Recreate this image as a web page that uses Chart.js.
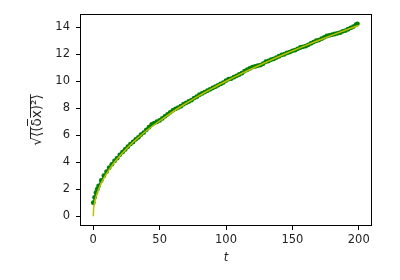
<!DOCTYPE html>
<html>
<head>
<meta charset="utf-8">
<script src="https://cdn.jsdelivr.net/npm/chart.js@4/dist/chart.umd.min.js"></script>
<style>
html,body{margin:0;padding:0;background:#fff;}
#wrap{width:400px;height:280px;}
</style>
</head>
<body>
<div id="wrap"><canvas id="c" width="400" height="280"></canvas></div>
<script>
// measured sqrt mean-square displacement (green markers)
const tMeasured = [0,1,2,3,4,6,8,10,12,14,16,18,20,22,24,26,28,30,32,34,36,38,40,42,44,46,48,50,52,54,56,58,60,62,64,66,68,70,72,74,76,78,80,82,84,86,88,90,92,94,96,98,100,102,104,106,108,110,112,114,116,118,120,122,124,126,128,130,132,134,136,138,140,142,144,146,148,150,152,154,156,158,160,162,164,166,168,170,172,174,176,178,180,182,184,186,188,190,192,194,196,198,199];
const rmsMeasured = [1.00,1.40,1.75,2.00,2.25,2.65,3.00,3.30,3.60,3.85,4.10,4.30,4.55,4.75,4.95,5.15,5.35,5.50,5.70,5.85,6.05,6.20,6.40,6.60,6.80,6.90,7.00,7.10,7.25,7.40,7.55,7.70,7.85,7.95,8.05,8.15,8.30,8.40,8.50,8.60,8.75,8.85,9.00,9.10,9.20,9.30,9.40,9.50,9.60,9.70,9.80,9.90,10.05,10.15,10.20,10.30,10.40,10.50,10.60,10.75,10.85,10.95,11.05,11.10,11.15,11.20,11.30,11.45,11.50,11.60,11.65,11.75,11.85,11.95,12.00,12.10,12.15,12.25,12.30,12.40,12.50,12.55,12.60,12.70,12.80,12.90,13.00,13.05,13.15,13.25,13.35,13.40,13.45,13.50,13.55,13.60,13.70,13.75,13.85,13.95,14.05,14.20,14.25];
// fitted curve (yellow line)
const tFit = [0,0.25,1,2,4,6,9,12,16,20,25,30,36,42,49,56,64,72,81,90,100,110,121,132,144,156,169,182,196,200];
const rmsFit = [0,0.5,1.0,1.41,2.0,2.45,3.0,3.46,4.0,4.47,5.0,5.48,6.0,6.48,7.0,7.48,8.0,8.49,9.0,9.49,10.0,10.49,11.0,11.49,12.0,12.49,13.0,13.49,14.0,14.14];
// axis ticks
const xTicks = [0,50,100,150,200];
const yTicks = [0,2,4,6,8,10,12,14];
const xLimits = [-10,210];
const yLimits = [-0.72,14.98];

const measuredPts = tMeasured.map((t,i)=>({x:t,y:rmsMeasured[i]}));
const fitPts = tFit.map((t,i)=>({x:t,y:rmsFit[i]}));

const boxPlugin = {
  id:'box',
  afterDraw(chart){
    const {ctx, chartArea:a} = chart;
    ctx.save();
    ctx.strokeStyle='#000';
    ctx.lineWidth=1;
    ctx.strokeRect(Math.round(a.left)+0.5, Math.round(a.top)+0.5, Math.round(a.right-a.left)-1, Math.round(a.bottom-a.top)-1);
    ctx.restore();
  }
};

const tickFont = {family:'DejaVu Sans', size:11.5};
new Chart(document.getElementById('c'), {
  type:'scatter',
  data:{datasets:[
    {data:measuredPts, showLine:true, borderColor:'#008000', backgroundColor:'#008000', borderWidth:1.5, pointRadius:2.4, pointBorderWidth:0, pointHoverRadius:2.4, order:2},
    {data:fitPts, showLine:true, borderColor:'#bfbf00', borderWidth:1.5, pointRadius:0, cubicInterpolationMode:'monotone', order:1}
  ]},
  options:{
    responsive:false, animation:false, devicePixelRatio:1,
    layout:{padding:{left:0,right:28,top:14,bottom:0}},
    plugins:{legend:{display:false}, tooltip:{enabled:false}},
    scales:{
      x:{type:'linear', min:xLimits[0], max:xLimits[1],
        afterBuildTicks(s){ s.ticks = xTicks.map(v=>({value:v})); },
        afterFit(s){ s.height = 54; },
        grid:{display:true, drawOnChartArea:false, tickLength:4, color:'#000', tickColor:'#000'},
        border:{display:false},
        ticks:{font:tickFont, color:'#222', padding:3, maxRotation:0},
        title:{display:true, text:'t', font:{family:'DejaVu Sans', size:11.5, style:'italic'}, color:'#222', padding:{top:0,bottom:15}}
      },
      y:{type:'linear', min:yLimits[0], max:yLimits[1],
        afterBuildTicks(s){ s.ticks = yTicks.map(v=>({value:v})); },
        afterFit(s){ s.width = 80; },
        grid:{display:true, drawOnChartArea:false, tickLength:4, color:'#000', tickColor:'#000'},
        border:{display:false},
        ticks:{font:tickFont, color:'#222', padding:6},
        title:{display:true, text:'√⟨̅(̅δ̅x̅)̅²̅⟩̅', font:{family:'DejaVu Sans', size:13.5}, color:'#222', padding:{top:29,bottom:0}}
      }
    }
  },
  plugins:[boxPlugin]
});
</script>
</body>
</html>
